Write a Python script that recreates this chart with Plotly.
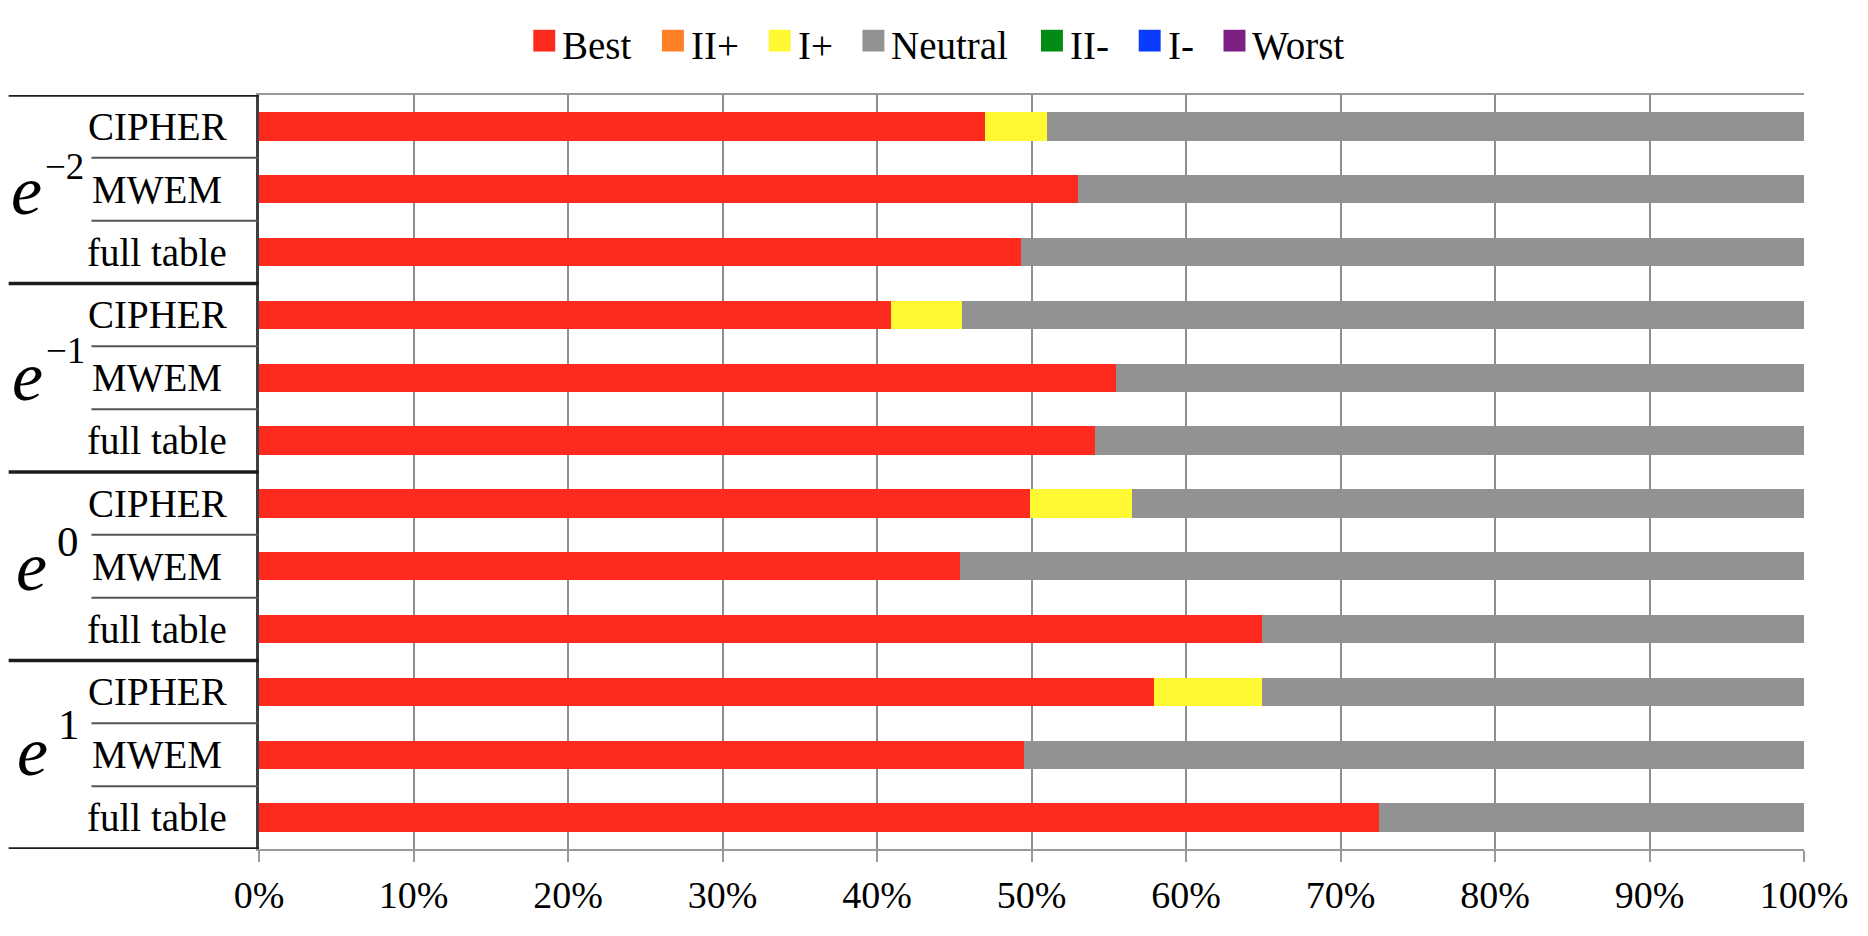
import plotly.graph_objects as go

# ---------------- data ----------------
group_labels = ["−2", "−1", "0", "1"]          # exponents of e
methods = ["CIPHER", "MWEM", "full table"]
series_names = ["Best", "II+", "I+", "Neutral", "II-", "I-", "Worst"]
series_colors = ["#FF2A1E", "#FF7F27", "#FFF933", "#929292", "#008C14", "#0A3CFF", "#7B1F82"]

best     = [47.0, 53.0, 49.3, 40.9, 55.5, 54.1, 49.9, 45.4, 64.9, 57.9, 49.5, 72.5]
ii_plus  = [0, 0, 0, 0, 0, 0, 0, 0, 0, 0, 0, 0]
i_plus   = [4.0, 0, 0, 4.6, 0, 0, 6.6, 0, 0, 7.0, 0, 0]
neutral  = [49.0, 47.0, 50.7, 54.5, 44.5, 45.9, 43.5, 54.6, 35.1, 35.1, 50.5, 27.5]
ii_minus = [0, 0, 0, 0, 0, 0, 0, 0, 0, 0, 0, 0]
i_minus  = [0, 0, 0, 0, 0, 0, 0, 0, 0, 0, 0, 0]
worst    = [0, 0, 0, 0, 0, 0, 0, 0, 0, 0, 0, 0]
series_values = [best, ii_plus, i_plus, neutral, ii_minus, i_minus, worst]

x_ticks = [0, 10, 20, 30, 40, 50, 60, 70, 80, 90, 100]

# ---------------- geometry ----------------
# the page body has an 8px default margin, so the figure is offset by 8px
OFF = 8
W, H = 1868 - 2 * OFF, 936 - 2 * OFF
PL, PR, PT, PB = 259, 1808, 95, 858          # plot area in window pixels
L, T = PL - OFF, PT - OFF
R = (W + OFF) - PR
B = (H + OFF) - PB
PW = PR - PL
PH = PB - PT
FONT = "Liberation Serif, Times New Roman, serif"

def px_x(px):
    return (px - PL) / PW

def px_y(py):
    return (PB - py) / PH

cats = [f"e{g} {m}" for g in group_labels for m in methods]

fig = go.Figure()
for name, color, vals in zip(series_names, series_colors, series_values):
    fig.add_trace(go.Bar(
        y=cats, x=vals, name=name, orientation="h",
        marker=dict(color=color, line=dict(width=0)),
        showlegend=False,
    ))

shapes = []
annotations = []

# left table rules
n = len(cats)
for i in range(n + 1):
    yv = i - 0.5
    if i % 3 == 0:
        shapes.append(dict(type="line", xref="paper", yref="y", x0=px_x(OFF), x1=0,
                           y0=yv, y1=yv, line=dict(color="#1e1e1e", width=3.5)))
    else:
        shapes.append(dict(type="line", xref="paper", yref="y", x0=px_x(91), x1=0,
                           y0=yv, y1=yv, line=dict(color="#555555", width=2)))

# method labels
for c, cat in enumerate(cats):
    annotations.append(dict(x=px_x(157), y=cat, xref="paper", yref="y",
                            text=methods[c % 3], showarrow=False,
                            xanchor="center", yanchor="middle",
                            font=dict(family=FONT, size=39, color="black")))

# e^k group labels
e_left = [8, 9, 13, 14]
e_dy = [0.02, -0.02, 0.01, -0.05]
sup_left = [42, 43, 54, 55]
sup_size = [37, 37, 43, 43]
sup_dy = [-0.36, -0.44, -0.39, -0.48]
for g, lab in enumerate(group_labels):
    yc = 1 + 3 * g
    annotations.append(dict(x=px_x(e_left[g]), y=yc + e_dy[g], xref="paper", yref="y",
                            text="<i>e</i>", showarrow=False,
                            xanchor="left", yanchor="middle",
                            font=dict(family=FONT, size=70, color="black")))
    annotations.append(dict(x=px_x(sup_left[g]), y=yc + sup_dy[g], xref="paper", yref="y",
                            text=lab, showarrow=False,
                            xanchor="left", yanchor="middle",
                            font=dict(family=FONT, size=sup_size[g], color="black")))

# legend (manual, squares + text)
leg_x = [534, 663, 770, 864, 1043, 1141, 1226]
for name, color, lx in zip(series_names, series_colors, leg_x):
    shapes.append(dict(type="rect", xref="paper", yref="paper",
                       x0=px_x(lx), x1=px_x(lx + 22), y0=px_y(51), y1=px_y(29),
                       fillcolor=color, line=dict(width=0)))
    annotations.append(dict(x=px_x(lx + 27), y=px_y(45), xref="paper", yref="paper",
                            text=name, showarrow=False, xanchor="left", yanchor="middle",
                            font=dict(family=FONT, size=39, color="black")))

fig.update_layout(
    width=W, height=H,
    margin=dict(l=L, r=R, t=T, b=B, pad=0),
    barmode="stack", bargap=0.55,
    plot_bgcolor="white", paper_bgcolor="white",
    showlegend=False,
    shapes=shapes, annotations=annotations,
    font=dict(family=FONT, color="black"),
)
fig.update_xaxes(
    range=[0, 100], tickvals=x_ticks, ticktext=[f"{v}%" for v in x_ticks],
    showgrid=True, gridcolor="#8e8e8e", gridwidth=1.6,
    showline=True, linecolor="#999999", linewidth=2, mirror=True,
    ticks="outside", ticklen=11, tickcolor="#999999", tickwidth=1.6,
    tickfont=dict(family=FONT, size=38, color="black"),
    zeroline=False, fixedrange=True,
)
fig.update_yaxes(
    categoryorder="array", categoryarray=cats,
    range=[n - 0.5, -0.5], showticklabels=False, ticks="",
    showgrid=False, showline=True, linecolor="#404040", linewidth=2.5,
    zeroline=False,
)

fig.write_html("out.html")
